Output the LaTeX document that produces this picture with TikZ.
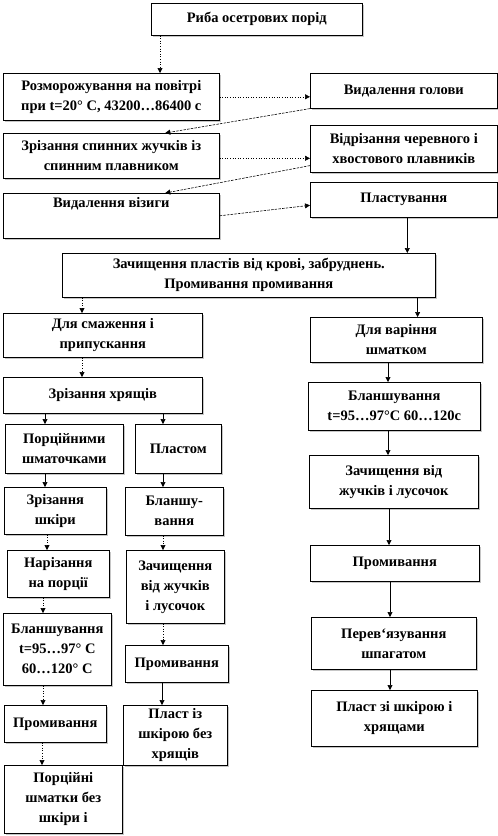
\documentclass[tikz,border=0pt]{standalone}
\usepackage{fontspec}
\setmainfont{Liberation Serif}
\usetikzlibrary{arrows.meta}
\usetikzlibrary{shadows}

\begin{document}
\begin{tikzpicture}[x=1pt, y=-1pt,
    box/.style={draw, line width=0.6pt, fill=white, inner sep=0pt, anchor=north west,
      align=center, font=\fontsize{14.5}{20}\selectfont\bfseries,
      drop shadow={shadow xshift=1.5pt, shadow yshift=-1.5pt, fill=gray!45, opacity=1}},
    solidarr/.style={-{Triangle[length=5pt,width=5pt]}, line width=0.6pt},
    dotarr/.style={solidarr, dotted},
    dasharr/.style={solidarr, dash pattern=on 2.5pt off 1.2pt}]
  \useasboundingbox (0,0) rectangle (498,836);
  % top part
  \node[box, minimum width=211, minimum height=32] (fish) at (151,3) {Риба осетрових порід};
  \node[box, minimum width=216, minimum height=47] (frost) at (3,73) {Розморожування на повітрі\\при t=20° С, 43200…86400 с};
  \node[box, minimum width=187, minimum height=35] (head) at (310,73) {Видалення голови};
  \node[box, minimum width=216, minimum height=45] (spine) at (3,133) {Зрізання спинних жучків із\\спинним плавником};
  \node[box, minimum width=187, minimum height=47] (fins) at (310,125) {Відрізання черевного і\\хвостового плавників};
  \node[box, minimum width=216, minimum height=45] (viz) at (3,193) {Видалення візиги\\[6pt]\mbox{}};
  \node[box, minimum width=187, minimum height=35] (plast) at (310,182) {Пластування};
  \node[box, minimum width=373, minimum height=44] (clean) at (62,253) {Зачищення пластів від крові, забруднень.\\Промивання промивання};
  \draw[dotarr] ([xshift=9pt]fish.south west) -- ([xshift=9pt]fish.south west |- frost.north);
  \draw[dotarr] (frost.east) -- (frost.east -| head.west);
  \draw[dasharr] (head.south west) -- ([xshift=54pt]spine.north);
  \draw[dotarr] ([yshift=-2.5pt]spine.east) -- ([yshift=-2.5pt]spine.east -| fins.west);
  \draw[dasharr] ([yshift=7pt]fins.south west) -- ([xshift=54pt]viz.north);
  \draw[dasharr] (viz.east) -- ([yshift=-5.5pt]plast.west);
  \draw[solidarr] ([xshift=3.5pt]plast.south) -- ([xshift=3.5pt]plast.south |- clean.north);
  % left branch
  \node[box, minimum width=199, minimum height=44] (fry) at (3,313) {Для смаження і\\припускання};
  \node[box, minimum width=199, minimum height=36] (cart) at (3,377) {Зрізання  хрящів};
  \node[box, minimum width=118, minimum height=49] (porc) at (5,424) {Порційними\\шматочками};
  \node[box, minimum width=86, minimum height=49] (layer) at (135,424) {Пластом};
  \node[box, minimum width=102, minimum height=47] (skin) at (4,487) {Зрізання\\шкіри};
  \node[box, minimum width=98, minimum height=48] (blanchM) at (125,487) {Бланшу-\\вання};
  \node[box, minimum width=102, minimum height=47] (cut) at (7,550) {Нарізання\\на порції};
  \node[box, minimum width=98, minimum height=73] (cleanM) at (126,550) {Зачищення\\від жучків\\і лусочок};
  \node[box, minimum width=108, minimum height=72] (blanchL) at (3,613) {Бланшування\\t=95…97° С\\60…120° С};
  \node[box, minimum width=103, minimum height=37] (washM) at (125,645) {Промивання};
  \node[box, minimum width=102, minimum height=37] (washL) at (4,705) {Промивання};
  \node[box, minimum width=104, minimum height=60] (layerEnd) at (123,705) {Пласт із\\шкірою без\\хрящів};
  \node[box, minimum width=118, minimum height=68] (portions) at (4,765) {Порційні\\шматки без\\шкіри і};
  \draw[dotarr] ([xshift=20pt]clean.south west) -- ([xshift=20pt]clean.south west |- fry.north);
  \draw[dotarr] ([xshift=79pt]fry.south west) -- ([xshift=79pt]fry.south west |- cart.north);
  \draw[solidarr] ([xshift=42pt]cart.south west) -- ([xshift=42pt]cart.south west |- porc.north);
  \draw[solidarr] ([xshift=160pt]cart.south west) -- ([xshift=160pt]cart.south west |- layer.north);
  \draw[solidarr] ([xshift=40pt]porc.south west) -- ([xshift=40pt]porc.south west |- skin.north);
  \draw[solidarr] ([xshift=28pt]layer.south west) -- ([xshift=28pt]layer.south west |- blanchM.north);
  \draw[dotarr] ([xshift=43pt]skin.south west) -- ([xshift=43pt]skin.south west |- cut.north);
  \draw[dotarr] ([xshift=38pt]blanchM.south west) -- ([xshift=38pt]blanchM.south west |- cleanM.north);
  \draw[dotarr] ([xshift=36pt]cut.south west) -- ([xshift=36pt]cut.south west |- blanchL.north);
  \draw[dotarr] ([xshift=37pt]cleanM.south west) -- ([xshift=37pt]cleanM.south west |- washM.north);
  \draw[dotarr] ([xshift=40pt]blanchL.south west) -- ([xshift=40pt]blanchL.south west |- washL.north);
  \draw[solidarr] ([xshift=37pt]washM.south west) -- ([xshift=37pt]washM.south west |- layerEnd.north);
  \draw[dotarr] ([xshift=38pt]washL.south west) -- ([xshift=38pt]washL.south west |- portions.north);
  % right branch
  \node[box, minimum width=172, minimum height=45] (boil) at (310,317) {Для варіння\\шматком};
  \node[box, minimum width=172, minimum height=48] (blanchR) at (308,382) {Бланшування\\t=95…97°С 60…120с};
  \node[box, minimum width=169, minimum height=53] (cleanR) at (309,455) {Зачищення від\\жучків  і лусочок};
  \node[box, minimum width=169, minimum height=36] (washR) at (310,545) {Промивання};
  \node[box, minimum width=165, minimum height=52] (tie) at (311,617) {Перев`язування\\шпагатом};
  \node[box, minimum width=166, minimum height=56] (final) at (311,690) {Пласт зі шкірою і\\хрящами};
  \draw[solidarr] ([xshift=-18pt]clean.south east) -- ([xshift=-18pt]clean.south east |- boil.north);
  \draw[solidarr] ([xshift=78pt]boil.south west) -- ([xshift=78pt]boil.south west |- blanchR.north);
  \draw[solidarr] ([xshift=80pt]blanchR.south west) -- ([xshift=80pt]blanchR.south west |- cleanR.north);
  \draw[solidarr] ([xshift=80pt]cleanR.south west) -- ([xshift=80pt]cleanR.south west |- washR.north);
  \draw[solidarr] ([xshift=80pt]washR.south west) -- ([xshift=80pt]washR.south west |- tie.north);
  \draw[solidarr] ([xshift=79pt]tie.south west) -- ([xshift=79pt]tie.south west |- final.north);
\end{tikzpicture}
\end{document}
